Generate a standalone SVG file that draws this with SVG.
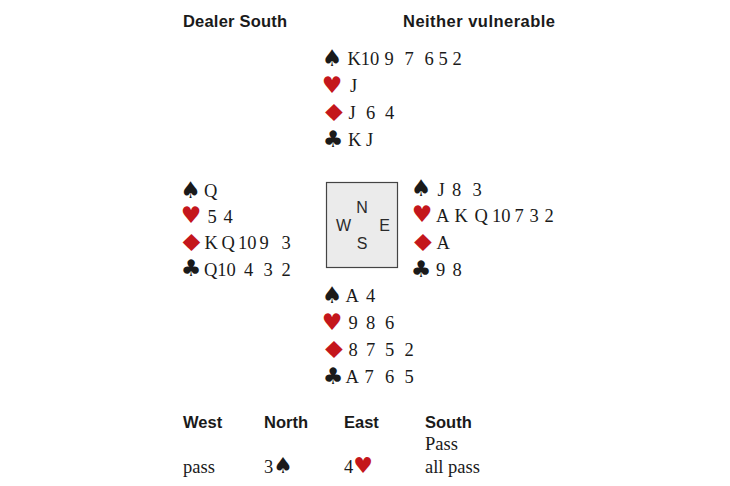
<svg xmlns="http://www.w3.org/2000/svg" width="730" height="486" viewBox="0 0 730 486">
<style>
.hd{font-family:"Liberation Sans",Arial,sans-serif;font-weight:bold;font-size:16.5px;fill:#1a1a1a}
.c{font-family:"Liberation Serif","Times New Roman",serif;font-size:18.5px;fill:#1a1a1a}
.s{font-family:"DejaVu Sans",sans-serif;font-size:23px;text-anchor:middle}
.d{font-family:"DejaVu Sans",sans-serif;font-size:23.5px;text-anchor:middle}
.bk{fill:#1a1a1a}
.rd{fill:#c4161c}
.cp{font-family:"Liberation Sans",Arial,sans-serif;font-size:16px;fill:#2a2a2a;text-anchor:middle}
</style>
<rect width="730" height="486" fill="#ffffff"/>
<g id="header">
<text class="hd" x="183" y="27" textLength="104" lengthAdjust="spacing">Dealer South</text>
<text class="hd" x="403" y="27" textLength="152" lengthAdjust="spacing">Neither vulnerable</text>
</g>
<g id="north">
<text class="s bk" x="332" y="66">♠</text>
<text class="c" x="347.5" y="65">K10 <tspan x="384.5">9</tspan> <tspan x="404.5">7</tspan> <tspan x="424.5">6</tspan> <tspan x="438.5">5</tspan> <tspan x="452.5">2</tspan></text>
<text class="s rd" x="332" y="92.5">♥</text>
<text class="c" x="350" y="92">J</text>
<text class="d rd" transform="translate(334,120.5) scale(1.33,1)">♦</text>
<text class="c" x="348.5" y="119">J <tspan x="366">6</tspan> <tspan x="385">4</tspan></text>
<text class="s bk" x="333" y="146.5">♣</text>
<text class="c" x="348" y="146">K <tspan x="366">J</tspan></text>
</g>
<g id="west">
<text class="s bk" x="190.5" y="197.5">♠</text>
<text class="c" x="204" y="196.5">Q</text>
<text class="s rd" x="191" y="223">♥</text>
<text class="c" x="207.5" y="222.5">5 <tspan x="223.5">4</tspan></text>
<text class="d rd" transform="translate(191.5,250.5) scale(1.33,1)">♦</text>
<text class="c" x="204.5" y="249">K <tspan x="221.5">Q</tspan> <tspan x="238">10</tspan> <tspan x="259.5">9</tspan> <tspan x="281.5">3</tspan></text>
<text class="s bk" x="191" y="276">♣</text>
<text class="c" x="204" y="275.5">Q10 <tspan x="244">4</tspan> <tspan x="263.5">3</tspan> <tspan x="281.5">2</tspan></text>
</g>
<g id="table">
<rect x="326.5" y="182.5" width="71" height="85" fill="#ebebeb" stroke="#444444" stroke-width="1.2"/>
<text class="cp" x="362" y="213">N</text>
<text class="cp" x="343.5" y="231">W</text>
<text class="cp" x="384.5" y="231">E</text>
<text class="cp" x="362" y="249">S</text>
</g>
<g id="east">
<text class="s bk" x="421" y="196">♠</text>
<text class="c" x="437.5" y="195.5">J <tspan x="452">8</tspan> <tspan x="472.5">3</tspan></text>
<text class="s rd" x="422" y="222">♥</text>
<text class="c" x="436" y="221.5">A <tspan x="454.5">K</tspan> <tspan x="474.5">Q</tspan><tspan x="492">10</tspan> <tspan x="514.5">7</tspan> <tspan x="529.5">3</tspan> <tspan x="544.5">2</tspan></text>
<text class="d rd" transform="translate(423,250.5) scale(1.33,1)">♦</text>
<text class="c" x="436.5" y="249">A</text>
<text class="s bk" x="421" y="276.5">♣</text>
<text class="c" x="436" y="276">9 <tspan x="452.5">8</tspan></text>
</g>
<g id="south">
<text class="s bk" x="332" y="303">♠</text>
<text class="c" x="345.5" y="302">A <tspan x="366">4</tspan></text>
<text class="s rd" x="332" y="329.5">♥</text>
<text class="c" x="348.5" y="329">9 <tspan x="366">8</tspan> <tspan x="385">6</tspan></text>
<text class="d rd" transform="translate(334,357.5) scale(1.33,1)">♦</text>
<text class="c" x="348.5" y="356">8 <tspan x="366">7</tspan> <tspan x="385">5</tspan> <tspan x="404.5">2</tspan></text>
<text class="s bk" x="333" y="383.5">♣</text>
<text class="c" x="345.5" y="383">A<tspan x="364.5">7</tspan> <tspan x="385">6</tspan> <tspan x="404.5">5</tspan></text>
</g>
<g id="bidding">
<text class="hd" x="183" y="427.5">West</text>
<text class="hd" x="264" y="427.5">North</text>
<text class="hd" x="344" y="427.5">East</text>
<text class="hd" x="425" y="427.5">South</text>
<text class="c" x="425" y="450">Pass</text>
<text class="c" x="183" y="473">pass</text>
<text class="c" x="264" y="473">3<tspan class="bk" style="font-family:'DejaVu Sans',sans-serif;font-size:22px">♠</tspan></text>
<text class="c" x="344" y="473">4<tspan class="rd" style="font-family:'DejaVu Sans',sans-serif;font-size:22px">♥</tspan></text>
<text class="c" x="425" y="473">all pass</text>
</g>
</svg>
